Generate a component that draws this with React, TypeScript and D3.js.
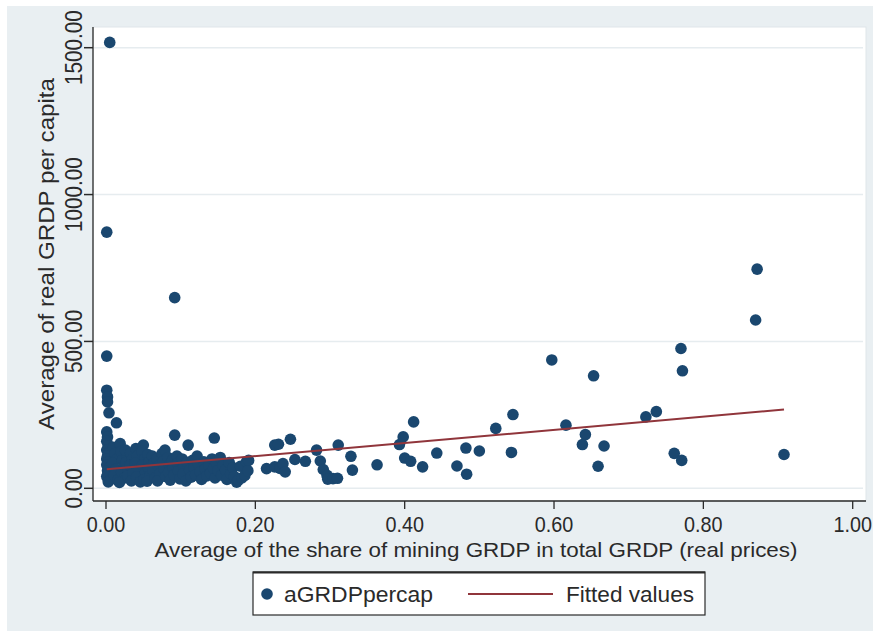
import React from 'react';
import * as d3 from 'd3';

// x: average mining share of GRDP, y: average real GRDP per capita
const aGRDPpercap: [number, number][] = [
  // column at the origin
  [0.005, 1518], [0.001, 872], [0.001, 450], [0.001, 334], [0.002, 311], [0.002, 294],
  [0.004, 257], [0.014, 223], [0.001, 192], [0.002, 175], [0.001, 160], [0.003, 145],
  [0.001, 130], [0.004, 120], [0.002, 110], [0.001, 100], [0.003, 90], [0.001, 80],
  [0.005, 70], [0.002, 60], [0.004, 50], [0.001, 40], [0.006, 30], [0.003, 22],
  // 0.01 - 0.03
  [0.010, 140], [0.012, 118], [0.015, 100], [0.009, 85], [0.013, 65], [0.011, 45],
  [0.016, 28], [0.019, 152], [0.020, 125], [0.022, 95], [0.024, 75], [0.021, 55],
  [0.025, 35], [0.018, 20], [0.028, 110], [0.027, 88], [0.030, 60], [0.029, 42], [0.026, 130],
  // 0.03 - 0.06
  [0.033, 120], [0.035, 98], [0.032, 78], [0.036, 50], [0.034, 25], [0.040, 135],
  [0.042, 110], [0.039, 85], [0.044, 62], [0.041, 38], [0.046, 22], [0.050, 147],
  [0.048, 125], [0.052, 102], [0.049, 80], [0.053, 55], [0.051, 30], [0.056, 115],
  [0.058, 90], [0.057, 68], [0.059, 42], [0.055, 24],
  // 0.06 - 0.10
  [0.062, 110], [0.064, 85], [0.063, 60], [0.066, 35], [0.068, 100], [0.070, 75],
  [0.072, 50], [0.069, 25], [0.075, 118], [0.077, 92], [0.079, 130], [0.078, 65],
  [0.080, 40], [0.083, 105], [0.085, 80], [0.084, 55], [0.086, 28], [0.089, 95],
  [0.090, 70], [0.092, 181], [0.091, 45], [0.092, 649], [0.095, 110], [0.096, 85],
  [0.097, 58], [0.099, 32],
  // 0.10 - 0.15
  [0.102, 100], [0.104, 75], [0.103, 48], [0.107, 25], [0.110, 147], [0.109, 88],
  [0.112, 62], [0.114, 38], [0.116, 95], [0.118, 70], [0.120, 45], [0.122, 110],
  [0.124, 82], [0.126, 55], [0.128, 30], [0.131, 90], [0.133, 65], [0.135, 42],
  [0.138, 78], [0.140, 52], [0.142, 100], [0.145, 171], [0.144, 68], [0.146, 35], [0.148, 85],
  // 0.15 - 0.20
  [0.150, 60], [0.153, 105], [0.155, 45], [0.157, 78], [0.160, 62], [0.162, 30],
  [0.165, 88], [0.167, 50], [0.170, 70], [0.172, 40], [0.175, 21], [0.177, 27],
  [0.180, 75], [0.182, 35], [0.186, 44], [0.188, 90], [0.191, 95], [0.190, 60],
  // 0.20 - 0.37
  [0.215, 67], [0.226, 73], [0.233, 68], [0.226, 147], [0.231, 150], [0.247, 167],
  [0.237, 84], [0.240, 56], [0.253, 98], [0.267, 92], [0.282, 130], [0.287, 93],
  [0.291, 64], [0.296, 44], [0.297, 31], [0.304, 33], [0.310, 34], [0.311, 147],
  [0.328, 109], [0.330, 62], [0.363, 80],
  // 0.39 and up
  [0.393, 149], [0.398, 175], [0.412, 226], [0.400, 103], [0.408, 92], [0.424, 73],
  [0.443, 120], [0.470, 76], [0.483, 48], [0.482, 137], [0.500, 127], [0.522, 204],
  [0.545, 251], [0.543, 122], [0.597, 437], [0.616, 215], [0.642, 183], [0.638, 149],
  [0.653, 383], [0.667, 144], [0.659, 75], [0.723, 243], [0.737, 261], [0.770, 476],
  [0.772, 400], [0.761, 119], [0.771, 95], [0.872, 746], [0.870, 573], [0.908, 115],
];

const fittedShare = [0.001, 0.908];
const fittedValues = [65, 268];

const xTicks = [0, 0.2, 0.4, 0.6, 0.8, 1.0];
const yTicks = [0, 500, 1000, 1500];
const xTitle = 'Average of the share of mining GRDP in total GRDP (real prices)';
const yTitle = 'Average of real GRDP per capita';
const legendLabels = ['aGRDPpercap', 'Fitted values'];

const navy = '#1a476f';
const maroon = '#90353b';
const ink = '#2a2a2a';
const font = '"Liberation Sans", Arial, sans-serif';

export default function App() {
  const width = 873;
  const height = 631;
  const plot = { left: 93, right: 866, top: 27, bottom: 501 };

  const x = d3.scaleLinear().domain([0, 1]).range([106, 852.7]);
  const y = d3.scaleLinear().domain([0, 1500]).range([488.3, 47.7]);
  const fmt = d3.format('.2f');

  const fitLine = d3.line<number>()
    .x((d) => x(d))
    .y((_, i) => y(fittedValues[i]));

  return (
    <svg width={width} height={height} style={{ position: 'absolute', left: 0, top: 0 }}
      fontFamily={font}>
      <rect x={0} y={0} width={width} height={height} fill="#ffffff" />
      <rect x={7} y={6} width={width - 7} height={height - 6} fill="#e9eff2" />
      <rect x={plot.left} y={plot.top} width={plot.right - plot.left} height={plot.bottom - plot.top}
        fill="#ffffff" stroke="#dfe6e9" strokeWidth={1} />

      {/* grid */}
      {yTicks.map((t) => (
        <line key={'g' + t} x1={plot.left} x2={plot.right - 3} y1={y(t)} y2={y(t)}
          stroke="#e6ecef" strokeWidth={1.5} />
      ))}

      {/* points */}
      {aGRDPpercap.map((d, i) => (
        <circle key={i} cx={x(d[0])} cy={y(d[1])} r={5.8} fill={navy} />
      ))}

      {/* fitted */}
      <path d={fitLine(fittedShare) || ''} fill="none" stroke={maroon} strokeWidth={2} />

      {/* axes */}
      <line x1={plot.left} x2={plot.left} y1={plot.top} y2={plot.bottom} stroke={ink} strokeWidth={1.3} />
      <line x1={plot.left} x2={plot.right} y1={plot.bottom} y2={plot.bottom} stroke={ink} strokeWidth={1.3} />

      {yTicks.map((t) => (
        <g key={'y' + t}>
          <line x1={plot.left - 9} x2={plot.left} y1={y(t)} y2={y(t)} stroke={ink} strokeWidth={1.5} />
          <text transform={`translate(82,${y(t)}) rotate(-90) scale(0.9,1)`} textAnchor="middle"
            fontSize={23} fill={ink}>{fmt(t)}</text>
        </g>
      ))}
      {xTicks.map((t) => (
        <g key={'x' + t}>
          <line x1={x(t)} x2={x(t)} y1={plot.bottom} y2={plot.bottom + 8} stroke={ink} strokeWidth={1.3} />
          <text transform={`translate(${x(t)},532) scale(0.9,1)`} textAnchor="middle"
            fontSize={22} fill={ink}>{fmt(t)}</text>
        </g>
      ))}

      {/* titles */}
      <text x={476} y={557} textAnchor="middle" fontSize={21} fill={ink}
        textLength={643} lengthAdjust="spacingAndGlyphs">{xTitle}</text>
      <text transform="translate(54,254) rotate(-90)" textAnchor="middle" fontSize={22} fill={ink}
        textLength={352} lengthAdjust="spacingAndGlyphs">{yTitle}</text>

      {/* legend */}
      <rect x={253} y={572} width={452} height={43} fill="#ffffff" stroke={ink} strokeWidth={1.2} />
      <line x1={253} x2={705} y1={572.5} y2={572.5} stroke={ink} strokeWidth={2} />
      <circle cx={267} cy={594} r={5.8} fill={navy} />
      <text x={284} y={602} fontSize={22} fill={ink} textLength={149}
        lengthAdjust="spacingAndGlyphs">{legendLabels[0]}</text>
      <line x1={468} x2={553} y1={594} y2={594} stroke={maroon} strokeWidth={2} />
      <text x={566} y={602} fontSize={22} fill={ink} textLength={128}
        lengthAdjust="spacingAndGlyphs">{legendLabels[1]}</text>
    </svg>
  );
}
